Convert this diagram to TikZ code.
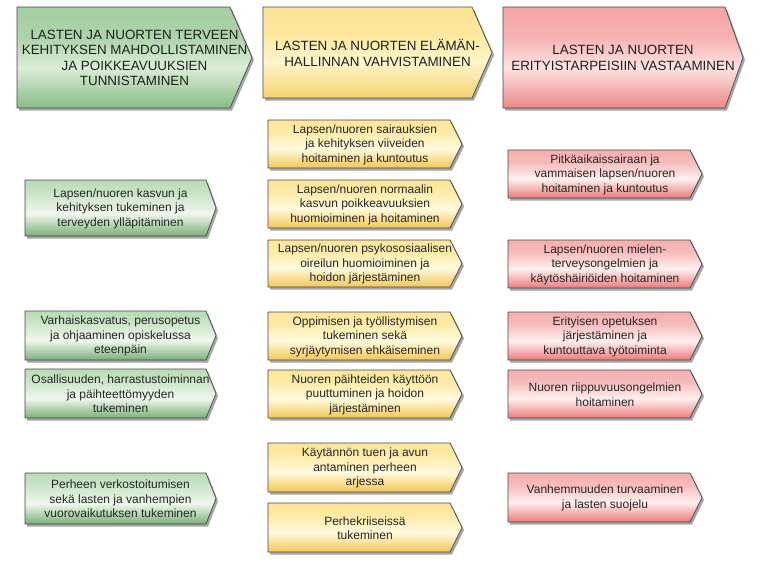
\documentclass[tikz,border=0pt]{standalone}
\usepackage{fontspec}
\setmainfont{Liberation Sans}
\usetikzlibrary{shadows}
% vertical shadings: 25bp = bottom of path, 75bp = top of path
\pgfdeclareverticalshading{ghead}{100bp}{rgb(0bp)=(0.53,0.74,0.52); rgb(25bp)=(0.53,0.74,0.52); rgb(45bp)=(0.86,0.93,0.85); rgb(60bp)=(0.68,0.83,0.67); rgb(75bp)=(0.64,0.81,0.63); rgb(100bp)=(0.64,0.81,0.63)}
\pgfdeclareverticalshading{gbody}{100bp}{rgb(0bp)=(0.48,0.69,0.47); rgb(25bp)=(0.48,0.69,0.47); rgb(45bp)=(0.94,0.97,0.93); rgb(62bp)=(0.80,0.90,0.79); rgb(75bp)=(0.72,0.86,0.71); rgb(100bp)=(0.72,0.86,0.71)}
\pgfdeclareverticalshading{yhead}{100bp}{rgb(0bp)=(0.96,0.83,0.44); rgb(25bp)=(0.96,0.83,0.44); rgb(45bp)=(1.0,0.96,0.80); rgb(60bp)=(0.99,0.91,0.62); rgb(75bp)=(0.98,0.89,0.58); rgb(100bp)=(0.98,0.89,0.58)}
\pgfdeclareverticalshading{ybody}{100bp}{rgb(0bp)=(0.95,0.78,0.33); rgb(25bp)=(0.95,0.78,0.33); rgb(45bp)=(1.0,0.98,0.87); rgb(62bp)=(0.99,0.92,0.66); rgb(75bp)=(0.99,0.90,0.60); rgb(100bp)=(0.99,0.90,0.60)}
\pgfdeclareverticalshading{rhead}{100bp}{rgb(0bp)=(0.93,0.53,0.53); rgb(25bp)=(0.93,0.53,0.53); rgb(45bp)=(0.99,0.89,0.89); rgb(60bp)=(0.97,0.70,0.70); rgb(75bp)=(0.96,0.64,0.64); rgb(100bp)=(0.96,0.64,0.64)}
\pgfdeclareverticalshading{rbody}{100bp}{rgb(0bp)=(0.92,0.48,0.48); rgb(25bp)=(0.92,0.48,0.48); rgb(45bp)=(1.0,0.94,0.94); rgb(62bp)=(0.97,0.74,0.74); rgb(75bp)=(0.96,0.68,0.68); rgb(100bp)=(0.96,0.68,0.68)}
\tikzset{
  boxbase/.style={shade, draw=black!72, line width=0.7pt, line join=round,
    drop shadow={shadow xshift=2pt, shadow yshift=-2.5pt, opacity=0.35, fill=black}},
  gh/.style={boxbase, shading=ghead}, gb/.style={boxbase, shading=gbody},
  yh/.style={boxbase, shading=yhead}, yb/.style={boxbase, shading=ybody},
  rh/.style={boxbase, shading=rhead}, rb/.style={boxbase, shading=rbody},
  headtxt/.style={align=center, inner sep=0pt, text=black!88,
    font=\fontsize{13.4pt}{15.5pt}\selectfont},
  bodytxt/.style={align=center, inner sep=0pt, text=black!85,
    font=\fontsize{12pt}{14.5pt}\selectfont},
}
% #1 name, #2 left, #3 top, #4 rect end, #5 tip, #6 bottom, #7 box style, #8 text style, #9 text
\newcommand{\arrbox}[9]{%
  \path[#7] (#2,#3) -- (#4,#3) -- (#5,{(#3+#6)/2}) -- (#4,#6) -- (#2,#6) -- cycle;
  \node[#8] (#1) at ({(#2+#5)/2},{(#3+#6)/2+0.5}) {#9};
}
\begin{document}
\begin{tikzpicture}[x=1pt,y=-1pt]
\useasboundingbox[fill=white] (0,0) rectangle (757,566);
% headers
\arrbox{h1}{17}{7}{230}{252}{108}{gh}{headtxt}{LASTEN JA NUORTEN TERVEEN\\KEHITYKSEN MAHDOLLISTAMINEN\\JA POIKKEAVUUKSIEN\\TUNNISTAMINEN}
\arrbox{h2}{263}{7}{472}{492}{98}{yh}{headtxt}{LASTEN JA NUORTEN ELÄMÄN-\\HALLINNAN VAHVISTAMINEN}
\arrbox{h3}{503}{7}{725}{743}{108}{rh}{headtxt}{LASTEN JA NUORTEN\\ERITYISTARPEISIIN VASTAAMINEN}
% green column
\arrbox{g1}{25}{180}{206}{216}{236}{gb}{bodytxt}{Lapsen/nuoren kasvun ja\\kehityksen tukeminen ja\\terveyden ylläpitäminen}
\arrbox{g2}{25}{311}{206}{216}{360}{gb}{bodytxt}{Varhaiskasvatus, perusopetus\\ja ohjaaminen opiskelussa\\eteenpäin}
\arrbox{g3}{25}{369}{206}{216}{418}{gb}{bodytxt}{Osallisuuden, harrastustoiminnan\\ja päihteettömyyden\\tukeminen}
\arrbox{g4}{25}{473}{206}{216}{524}{gb}{bodytxt}{Perheen verkostoitumisen\\sekä lasten ja vanhempien\\vuorovaikutuksen tukeminen}
% yellow column
\arrbox{y1}{268}{120}{450}{462}{168}{yb}{bodytxt}{Lapsen/nuoren sairauksien\\ja kehityksen viiveiden\\hoitaminen ja kuntoutus}
\arrbox{y2}{268}{180}{450}{462}{228}{yb}{bodytxt}{Lapsen/nuoren normaalin\\kasvun poikkeavuuksien\\huomioiminen ja hoitaminen}
\arrbox{y3}{268}{240}{450}{462}{287}{yb}{bodytxt}{Lapsen/nuoren psykososiaalisen\\oireilun huomioiminen ja\\hoidon järjestäminen}
\arrbox{y4}{268}{312}{450}{462}{360}{yb}{bodytxt}{Oppimisen ja työllistymisen\\tukeminen sekä\\syrjäytymisen ehkäiseminen}
\arrbox{y5}{268}{370}{450}{462}{418}{yb}{bodytxt}{Nuoren päihteiden käyttöön\\puuttuminen ja hoidon\\järjestäminen}
\arrbox{y6}{268}{443}{450}{462}{492}{yb}{bodytxt}{Käytännön tuen ja avun\\antaminen perheen\\arjessa}
\arrbox{y7}{268}{503}{450}{462}{552}{yb}{bodytxt}{Perhekriiseissä\\tukeminen}
% red column
\arrbox{r1}{508}{150}{690}{702}{198}{rb}{bodytxt}{Pitkäaikaissairaan ja\\vammaisen lapsen/nuoren\\hoitaminen ja kuntoutus}
\arrbox{r2}{508}{240}{690}{702}{288}{rb}{bodytxt}{Lapsen/nuoren mielen-\\terveysongelmien ja\\käytöshäiriöiden hoitaminen}
\arrbox{r3}{508}{312}{690}{702}{360}{rb}{bodytxt}{Erityisen opetuksen\\järjestäminen ja\\kuntouttava työtoiminta}
\arrbox{r4}{508}{370}{690}{702}{418}{rb}{bodytxt}{Nuoren riippuvuusongelmien\\hoitaminen}
\arrbox{r5}{508}{473}{690}{702}{522}{rb}{bodytxt}{Vanhemmuuden turvaaminen\\ja lasten suojelu}
\end{tikzpicture}
\end{document}
